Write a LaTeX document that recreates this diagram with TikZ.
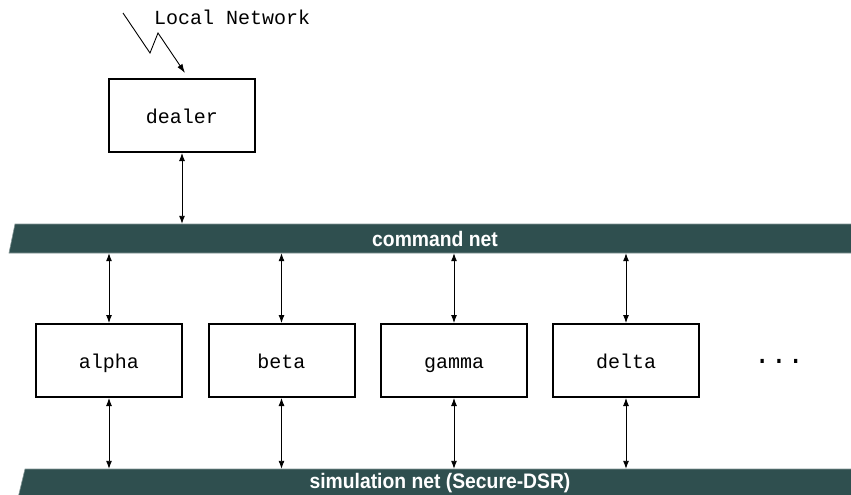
\documentclass[tikz,border=0pt]{standalone}
\usepackage{fontspec}
\usetikzlibrary{arrows.meta}
\newfontfamily\monofont{Liberation Mono}
\newfontfamily\barfont{Liberation Sans}[FakeStretch=0.92]
\definecolor{netfill}{HTML}{2F4F4F}
\tikzset{
  hostbox/.style={draw=black, line width=2pt, fill=white, inner sep=0pt,
    minimum width=146pt, minimum height=73pt, text height=17pt, text depth=1pt,
    font=\monofont\fontsize{20}{24}\selectfont},
  netbar/.style={fill=netfill, draw=netfill!60!white, line width=0.6pt},
  barlabel/.style={text=white, inner sep=0pt, minimum height=29pt,
    font=\barfont\bfseries\fontsize{21}{24}\selectfont},
  link/.style={draw=black, line width=0.9pt,
    {Latex[length=8pt,width=6pt]}-{Latex[length=8pt,width=6pt]}},
  wire/.style={draw=black, line width=0.9pt, -{Latex[length=9pt,width=6pt]}},
  plain/.style={font=\monofont\fontsize{20}{24}\selectfont, inner sep=0pt}
}
\begin{document}
\begin{tikzpicture}[x=1pt,y=-1pt]
\useasboundingbox (0,0) rectangle (851,495);

% network backbones
\path[netbar] (15,224) -- (860,224) -- (860,253) -- (9,253) -- cycle;
\path[netbar] (25,469) -- (860,469) -- (860,498) -- (18,498) -- cycle;
\node[barlabel] (cmdnet) at (435,238.5) {command net};
\node[barlabel] (simnet) at (440,483.5) {simulation net (Secure-DSR)};

% hosts
\node[hostbox] (dealer) at (182,115.5) {dealer};
\node[hostbox] (alpha) at (109,360.5) {alpha};
\node[hostbox] (beta)  at (281.5,360.5) {beta};
\node[hostbox] (gamma) at (454,360.5) {gamma};
\node[hostbox] (delta) at (626,360.5) {delta};
\node[plain, font=\monofont\fontsize{28}{30}\selectfont, anchor=base] (more) at (779,363) {...};

% incoming link from the local network
\node[plain, anchor=base west] (lan) at (154,25) {Local Network};
\coordinate (zs) at (123,13);
\coordinate (za) at (150,53);
\coordinate (zb) at (158,33);
\coordinate (zt) at (185,73);
\draw[wire] (zs) -- (za) -- (zb) -- (zt);

% attachments to the command net
\draw[link] (dealer.south) -- (dealer.south |- cmdnet.north);
\foreach \h in {alpha,beta,gamma,delta}{
  \draw[link] (\h.north |- cmdnet.south) -- (\h.north);
  \draw[link] (\h.south) -- (\h.south |- simnet.north);
}
\end{tikzpicture}
\end{document}
